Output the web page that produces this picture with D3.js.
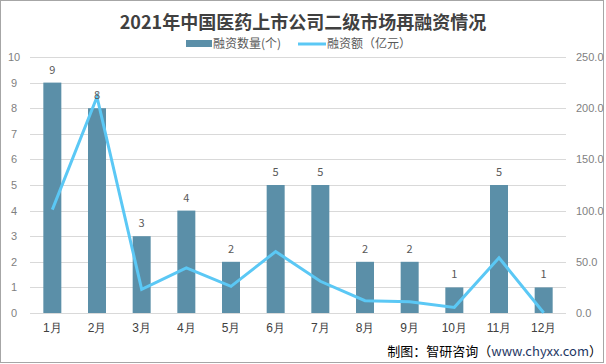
<!DOCTYPE html>
<html>
<head>
<meta charset="utf-8">
<script src="https://cdn.jsdelivr.net/npm/d3@7"></script>
<style>
  body { margin: 0; background: #fff; }
  svg { display: block; font-family: "Microsoft YaHei", "Noto Sans CJK SC", sans-serif; }
</style>
</head>
<body>
<div id="chart"></div>
<script>
'use strict';

// 2021年中国医药上市公司二级市场再融资情况
const months = ['1月', '2月', '3月', '4月', '5月', '6月', '7月', '8月', '9月', '10月', '11月', '12月'];
const counts = [9, 8, 3, 4, 2, 5, 5, 2, 2, 1, 5, 1];
const amounts = [101, 211, 23, 44, 26, 60, 31, 12, 11, 5.5, 54, 0.3];
const leftTicks = [0, 1, 2, 3, 4, 5, 6, 7, 8, 9, 10];
const rightTicks = [0, 50, 100, 150, 200, 250];

function drawChart(elementID, width, height) {
  const svg = d3.select('#' + elementID)
    .append('svg')
    .attr('width', width)
    .attr('height', height);

  // borde exterior
  svg.append('rect')
    .attr('x', 0.5).attr('y', 0.5)
    .attr('width', width - 3).attr('height', height - 2)
    .attr('fill', '#fff')
    .attr('stroke', '#a6a6a6');

  const margin = { top: 57, right: 40, bottom: 51, left: 30 };
  const innerW = width - margin.left - margin.right;
  const innerH = height - margin.top - margin.bottom;

  const x = d3.scaleBand()
    .domain(months)
    .range([margin.left, margin.left + innerW]);

  const yLeft = d3.scaleLinear().domain([0, 10]).range([margin.top + innerH, margin.top]);
  const yRight = d3.scaleLinear().domain([0, 250]).range([margin.top + innerH, margin.top]);

  // gridlines
  svg.append('g')
    .selectAll('line')
    .data(leftTicks)
    .enter()
    .append('line')
    .attr('x1', margin.left)
    .attr('x2', margin.left + innerW)
    .attr('y1', d => Math.round(yLeft(d)) + 0.5)
    .attr('y2', d => Math.round(yLeft(d)) + 0.5)
    .attr('stroke', '#d9d9d9');

  // eje izquierdo
  const leftAxis = svg.append('g')
    .attr('transform', `translate(${margin.left},0)`)
    .call(d3.axisLeft(yLeft).tickValues(leftTicks).tickSize(0).tickPadding(10));
  leftAxis.select('.domain').remove();
  leftAxis.selectAll('text')
    .attr('fill', '#7f7f7f')
    .style('font-size', '11px')
    .attr('text-anchor', 'middle')
    .attr('x', -16);

  // eje derecho
  const rightAxis = svg.append('g')
    .attr('transform', `translate(${margin.left + innerW},0)`)
    .call(d3.axisRight(yRight).tickValues(rightTicks).tickFormat(d3.format('.1f')).tickSize(0).tickPadding(10));
  rightAxis.select('.domain').remove();
  rightAxis.selectAll('text')
    .attr('fill', '#7f7f7f')
    .style('font-size', '11px');

  // eje x
  const bottomAxis = svg.append('g')
    .attr('transform', `translate(0,${margin.top + innerH})`)
    .call(d3.axisBottom(x).tickSize(0).tickPadding(10));
  bottomAxis.select('.domain').remove();
  bottomAxis.selectAll('text')
    .attr('fill', '#404040')
    .style('font-size', '12px');

  // barras
  const barW = 18;
  svg.selectAll('.bar')
    .data(counts)
    .enter()
    .append('rect')
    .attr('class', 'bar')
    .attr('x', (d, i) => x(months[i]) + x.bandwidth() / 2 - barW / 2)
    .attr('y', d => yLeft(d))
    .attr('width', barW)
    .attr('height', d => yLeft(0) - yLeft(d))
    .attr('fill', '#5b8fa8');

  // línea
  const line = d3.line()
    .x((d, i) => x(months[i]) + x.bandwidth() / 2)
    .y(d => yRight(d));

  svg.append('path')
    .datum(amounts)
    .attr('d', line)
    .attr('fill', 'none')
    .attr('stroke', '#5bc8f5')
    .attr('stroke-width', 3);

  // etiquetas de las barras
  svg.selectAll('.label')
    .data(counts)
    .enter()
    .append('text')
    .attr('class', 'label')
    .attr('x', (d, i) => x(months[i]) + x.bandwidth() / 2)
    .attr('y', d => yLeft(d) - 9)
    .attr('text-anchor', 'middle')
    .attr('fill', '#595959')
    .style('font-size', '11px')
    .text(d => d);

  // título
  svg.append('text')
    .attr('x', 303)
    .attr('y', 29)
    .attr('text-anchor', 'middle')
    .attr('fill', '#404040')
    .style('font-size', '18px')
    .style('font-weight', 'bold')
    .text('2021年中国医药上市公司二级市场再融资情况');

  // leyenda
  const legend = svg.append('g').attr('transform', 'translate(186,44)');
  legend.append('rect')
    .attr('x', 0).attr('y', -4)
    .attr('width', 26).attr('height', 7)
    .attr('fill', '#5b8fa8');
  legend.append('text')
    .attr('x', 27).attr('y', 4)
    .attr('fill', '#595959')
    .style('font-size', '12px')
    .text('融资数量(个)');
  legend.append('line')
    .attr('x1', 112).attr('x2', 140)
    .attr('y1', 0).attr('y2', 0)
    .attr('stroke', '#5bc8f5')
    .attr('stroke-width', 3);
  legend.append('text')
    .attr('x', 141).attr('y', 4)
    .attr('fill', '#595959')
    .style('font-size', '12px')
    .text('融资额（亿元）');

  // fuente
  const source = svg.append('text')
    .attr('x', 602)
    .attr('y', 356)
    .attr('text-anchor', 'end')
    .style('font-size', '13px')
    .attr('fill', '#000');
  source.append('tspan').text('制图：智研咨询（');
  source.append('tspan').attr('fill', '#1f3864').text('www.chyxx.com');
  source.append('tspan').text('）');
}

drawChart('chart', 606, 364);
</script>
</body>
</html>
